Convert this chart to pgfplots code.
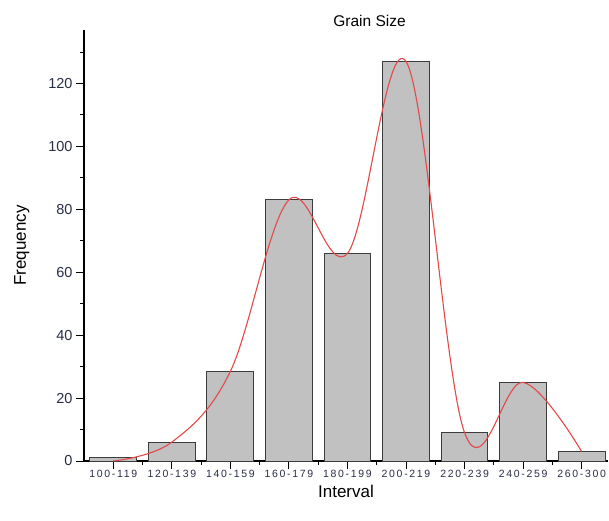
\documentclass[border=0pt]{standalone}
\usepackage{pgfplots}
\pgfplotsset{compat=1.18}
\usepackage{fontspec}
\setmainfont{Liberation Sans}
\definecolor{barfill}{RGB}{193,193,193}
\definecolor{baredge}{RGB}{60,60,60}
\definecolor{curvecol}{RGB}{228,72,72}
\definecolor{ticklab}{RGB}{40,45,70}
\begin{document}
\begin{tikzpicture}
\begin{axis}[
  at={(0,0)}, anchor=south west,
  scale only axis, width=524pt, height=431pt,
  xmin=-0.5, xmax=8.45, ymin=0, ymax=137,
  axis lines*=left,
  axis line style={line width=1.2pt, black},
  xtick={0,...,8},
  xticklabels={100-119,120-139,140-159,160-179,180-199,200-219,220-239,240-259,260-300},
  minor xtick={0.5,1.5,2.5,3.5,4.5,5.5,6.5,7.5},
  ytick={0,20,40,60,80,100,120},
  minor ytick={10,30,50,70,90,110,130},
  tick align=outside,
  major tick length=8pt, minor tick length=4pt,
  tick style={line width=1pt, black},
  /pgf/number format/assume math mode=true,
  x tick label style={font=\fontsize{10.5}{12}\selectfont\addfontfeatures{LetterSpace=16}, text=ticklab, yshift=2pt},
  y tick label style={font=\fontsize{14.5}{16}\selectfont, text=ticklab},
  xlabel={Interval},
  ylabel={Frequency},
  xlabel style={font=\fontsize{17}{19}\selectfont, yshift=0pt},
  ylabel style={font=\fontsize{17}{19}\selectfont, yshift=12pt},
  title={Grain Size},
  title style={font=\fontsize{15.5}{18}\selectfont, at={(rel axis cs:0.545,1)}, yshift=-6pt},
  clip=false,
]
\addplot[ybar, bar width=0.8, fill=barfill, draw=baredge, line width=1pt]
  coordinates {(0,1) (1,6) (2,28.5) (3,83) (4,66) (5,127) (6,9) (7,25) (8,3)};
\addplot[smooth, tension=0.6, curvecol, line width=1.1pt]
  coordinates {(0,0) (1,6) (2,28.5) (3,83) (4,66) (5,127) (6,9) (7,25) (8,3)};
\end{axis}
\pgfresetboundingbox
\path[use as bounding box] (-84pt,-59pt) rectangle (525pt,461pt);
\end{tikzpicture}
\end{document}
